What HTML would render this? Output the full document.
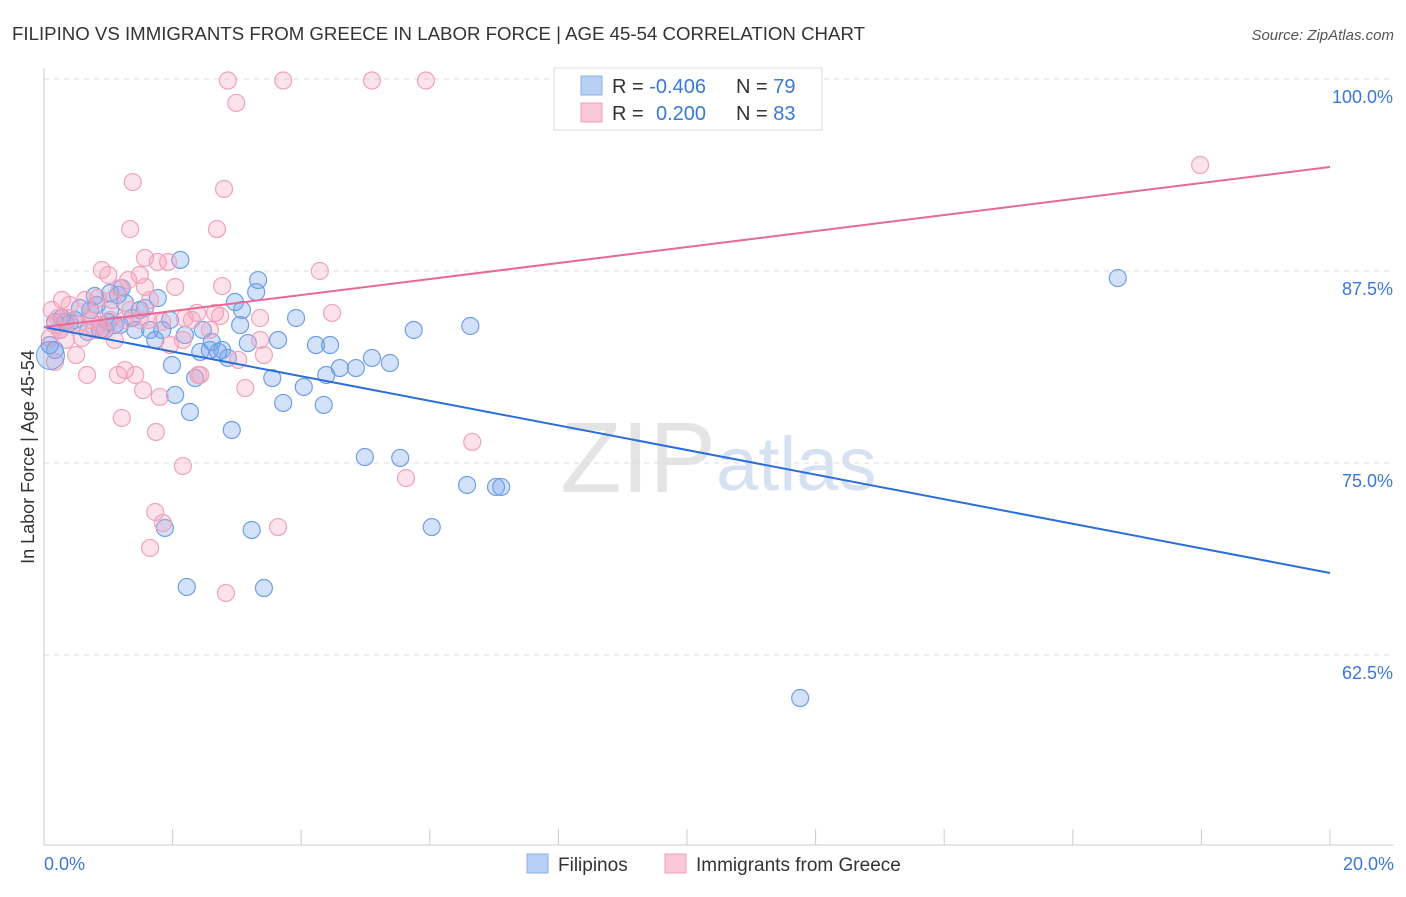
<!DOCTYPE html>
<html><head><meta charset="utf-8">
<style>
body{margin:0;background:#fff;font-family:"Liberation Sans",sans-serif;}
svg text{font-family:"Liberation Sans",sans-serif;}
</style></head>
<body>
<svg id="chart" width="1406" height="892">
<text x="12" y="40" font-size="18" fill="#333" textLength="853" lengthAdjust="spacingAndGlyphs">FILIPINO VS IMMIGRANTS FROM GREECE IN LABOR FORCE | AGE 45-54 CORRELATION CHART</text>
<text x="1394" y="40" font-size="15" fill="#555" text-anchor="end" font-style="italic">Source: ZipAtlas.com</text>
<text x="716" y="492" font-size="100" fill="#e4e4e4" text-anchor="end" font-family="Liberation Serif">ZIP</text>
<text x="716" y="490" font-size="76" fill="#d6e2f2">atlas</text>
<g id="grid"></g>
<g id="points"></g>
<g id="lines"></g>
<text transform="translate(34,457) rotate(-90)" font-size="18" fill="#333" text-anchor="middle">In Labor Force | Age 45-54</text>
<g>
<rect x="554" y="68" width="268" height="62" fill="#fff" stroke="#ddd"/>
<rect x="581" y="76" width="21" height="19" fill="#b8d0f4" stroke="#8ab0e8"/>
<rect x="581" y="103" width="21" height="19" fill="#fac8d8" stroke="#f0a0b8"/>
<text x="612" y="93" font-size="20" fill="#333">R = <tspan fill="#3a78d8">-0.406</tspan></text>
<text x="736" y="93" font-size="20" fill="#333">N = <tspan fill="#3a78d8">79</tspan></text>
<text x="612" y="120" font-size="20" fill="#333">R = <tspan fill="#3a78d8" x="656">0.200</tspan></text>
<text x="736" y="120" font-size="20" fill="#333">N = <tspan fill="#3a78d8">83</tspan></text>
</g>
<g>
<rect x="527" y="854" width="21" height="19" fill="#b8d0f4" stroke="#8ab0e8"/>
<text x="558" y="871" font-size="19" fill="#333">Filipinos</text>
<rect x="665" y="854" width="21" height="19" fill="#fac8d8" stroke="#f0a0b8"/>
<text x="696" y="871" font-size="19" fill="#333">Immigrants from Greece</text>
</g>
</svg>
<script>
const yTicks=[100,87.5,75,62.5];
const yTickLabels=["100.0%","87.5%","75.0%","62.5%"];
const xTickLabels=["0.0%","20.0%"];
const blueX=[0.17,0.09,0.17,0.28,0.40,0.56,0.68,0.79,0.82,1.03,0.95,1.03,1.15,1.21,1.18,1.26,1.37,1.42,1.49,1.57,1.65,1.73,1.77,1.84,1.88,1.96,1.99,2.04,2.12,2.19,2.22,2.27,2.35,2.43,2.47,2.58,2.61,2.71,2.77,2.86,2.92,2.97,3.05,3.08,3.17,3.23,3.30,3.33,3.42,3.55,3.64,3.72,3.92,4.04,4.23,4.35,4.39,4.45,4.60,4.85,4.99,5.10,5.38,5.54,5.75,6.03,6.58,6.63,7.03,7.11,11.76,16.70,0.33,0.48,0.87,1.00,1.10,0.72,0.25];
const blueY=[82.36,82.68,84.18,84.44,84.11,85.09,83.53,85.87,85.29,86.07,83.66,84.96,85.94,86.39,83.98,85.42,84.44,83.66,84.96,85.09,83.66,83.01,85.74,83.66,70.77,84.31,81.38,79.43,88.22,83.33,66.93,78.32,80.53,82.23,83.66,82.36,82.88,82.23,82.36,81.84,77.15,85.48,83.98,84.96,82.81,70.64,86.13,86.91,66.86,80.53,83.01,78.91,84.44,79.95,82.68,78.78,80.73,82.68,81.18,81.18,75.39,81.84,81.51,75.33,83.66,70.83,73.57,83.92,73.44,73.44,59.70,87.04,84.18,84.31,83.66,84.18,83.98,84.96,83.66];
const pinkX=[2.86,3.72,5.10,5.94,2.99,1.38,2.80,1.34,2.69,1.57,1.77,1.93,0.90,1.00,1.31,1.49,2.04,2.77,4.29,0.28,0.40,0.64,0.84,1.06,1.18,1.34,1.57,2.38,2.66,3.36,3.42,4.48,0.17,0.25,0.53,0.72,0.79,0.87,1.03,1.26,1.62,1.84,2.16,1.96,0.50,0.17,0.67,1.15,1.26,1.42,1.54,1.80,2.40,2.43,3.13,1.21,1.74,2.16,1.73,1.85,1.65,3.64,2.83,5.63,6.66,17.98,0.09,0.22,0.37,0.75,0.93,0.12,0.34,0.59,1.10,1.49,2.19,2.30,2.58,3.02,3.36,2.74,1.65];
const pinkY=[99.9,99.9,99.9,99.9,98.44,93.29,92.84,90.23,90.23,88.35,88.09,88.09,87.57,87.24,86.91,87.24,86.46,86.52,87.50,85.61,85.29,85.61,85.74,85.61,86.39,84.96,86.46,84.77,84.77,83.01,82.03,84.77,83.98,83.66,83.98,84.31,83.66,83.98,84.31,84.31,84.31,84.18,83.01,82.68,82.03,81.58,80.73,80.73,81.05,80.73,79.75,79.30,80.73,80.73,79.88,77.93,77.02,74.80,71.81,71.09,69.47,70.83,66.54,74.02,76.37,94.40,83.14,84.44,84.44,84.64,83.66,84.96,83.01,83.14,83.01,84.31,84.44,84.31,83.66,81.71,84.44,84.57,85.61];
const blueLine=[83.85,67.84];
const pinkLine=[83.85,94.27];
const NS="http://www.w3.org/2000/svg";
const X0=44,X1=1330,Y100=79,PX=192/12.5;
const sx=v=>X0+(X1-X0)*v/20;
const sy=v=>Y100+(100-v)*PX;
function mk(t,a,p){const e=document.createElementNS(NS,t);for(const k in a)e.setAttribute(k,a[k]);p.appendChild(e);return e;}
const grid=document.getElementById('grid');
mk('line',{x1:44,y1:68,x2:44,y2:845,stroke:'#ccc'},grid);
mk('line',{x1:44,y1:845,x2:1394,y2:845,stroke:'#ccc'},grid);
yTicks.forEach((t,i)=>{
  const g=mk('line',{x1:44,y1:sy(t),x2:1394,y2:sy(t),stroke:'#ddd','stroke-dasharray':'5,5'},grid);
  
  
  const l=mk('text',{x:1393,y:sy(t)+24,'font-size':18,fill:'#3a78d8','text-anchor':'end'},grid);
  l.textContent=yTickLabels[i];
  
  
});
for(let i=0;i<=10;i++){
  const k=mk('line',{x1:sx(i*2),y1:829,x2:sx(i*2),y2:845,stroke:'#ccc'},grid);
  
  
}
[[0,'start',44],[1,'end',1394]].forEach(([i,a,x])=>{
  const l=mk('text',{x:x,y:870,'font-size':18,fill:'#3a78d8','text-anchor':a},grid);
  l.textContent=xTickLabels[i];
  
  
});
const pts=document.getElementById('points');
blueX.forEach((x,i)=>{
  const c=mk('circle',{cx:sx(x),cy:sy(blueY[i]),r:8.5,fill:'rgba(110,160,235,0.3)',stroke:'#6f9fe6','stroke-width':1.2},pts);
  
  
});
pinkX.forEach((x,i)=>{
  const c=mk('circle',{cx:sx(x),cy:sy(pinkY[i]),r:8.5,fill:'rgba(245,160,190,0.3)',stroke:'#f0a3bb','stroke-width':1.2},pts);
  
  
});
const big=mk('circle',{cx:sx(0.1),cy:sy(82.0),r:14,fill:'rgba(110,160,235,0.3)',stroke:'#6f9fe6'},pts);


const ln=document.getElementById('lines');
const b=mk('line',{x1:sx(0),y1:sy(blueLine[0]),x2:sx(20),y2:sy(blueLine[1]),stroke:'#2a6fd8','stroke-width':2},ln);


const p=mk('line',{x1:sx(0),y1:sy(pinkLine[0]),x2:sx(20),y2:sy(pinkLine[1]),stroke:'#e8689a','stroke-width':2},ln);


</script>
</body></html>
